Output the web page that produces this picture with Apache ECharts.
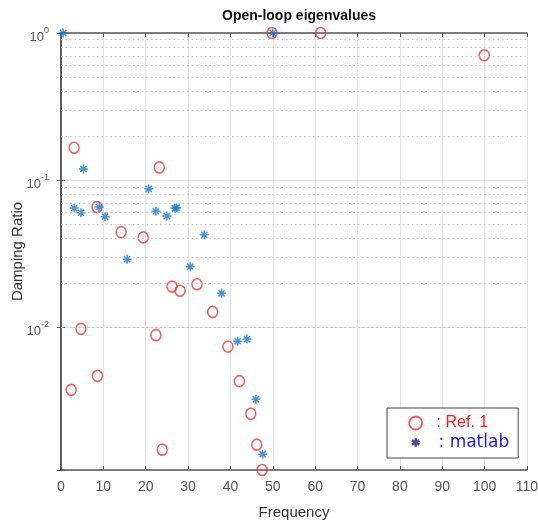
<!DOCTYPE html>
<html>
<head>
<meta charset="utf-8">
<script src="https://cdn.jsdelivr.net/npm/echarts@6/dist/echarts.min.js"></script>
<style>html,body{margin:0;padding:0;background:#fff}#c{width:538px;height:523px}</style>
</head>
<body>
<div id="c"></div>
<script>
// Data
const refFreq = [2.4, 3.1, 4.7, 8.5, 8.6, 14.2, 19.4, 22.4, 23.2, 23.9, 26.2, 28.1, 32.1, 35.8, 39.4, 42.1, 44.8, 46.2, 47.5, 49.8, 61.3, 99.9];
const refDamp = [0.00375, 0.166, 0.00975, 0.0656, 0.00467, 0.0443, 0.0408, 0.00883, 0.122, 0.00147, 0.0189, 0.0177, 0.0196, 0.0127, 0.00738, 0.0043, 0.00258, 0.00159, 0.00107, 1.0, 1.0, 0.706];
const matFreq = [0.5, 3.1, 4.7, 5.3, 9.0, 10.4, 15.6, 20.7, 22.4, 25.0, 26.9, 27.3, 30.5, 33.8, 37.9, 41.7, 43.9, 46.0, 47.6, 50.0];
const matDamp = [1.0, 0.0645, 0.060, 0.119, 0.0656, 0.0564, 0.029, 0.0873, 0.0613, 0.057, 0.0643, 0.065, 0.0258, 0.0425, 0.017, 0.00803, 0.0083, 0.00324, 0.00137, 1.0];
const xTicks = [0, 10, 20, 30, 40, 50, 60, 70, 80, 90, 100, 110];
const yMin = 0.00107, yMax = 1;
const seriesNames = ['Ref. 1', 'matlab'];

const FONT = 'Liberation Sans, Arial, sans-serif';
const axisCol = '#555';
const redC = '#f03a3a';
const blueC = '#1a78c8';
const starPath = 'path://M5,0L5,10M0,5L10,5M1.6,1.6L8.4,8.4M1.6,8.4L8.4,1.6';
const legStar = 'path://M-7,-7M7,7M0,-4.5L0,4.5M-4,-2.3L4,2.3M-4,2.3L4,-2.3';

// minor (dotted) log grid positions
const minorLines = [];
for (let e = -3; e < 0; e++) {
  for (let m = 2; m <= 9; m++) {
    const v = m * Math.pow(10, e);
    if (v > yMin && v < yMax) minorLines.push({ yAxis: v });
  }
}

const chart = echarts.init(document.getElementById('c'), null, { renderer: 'canvas' });
const ylab = function (v) {
  const l = Math.log10(v);
  if (Math.abs(l - Math.round(l)) > 1e-6) return '';
  return '{h| }{b|10}{s|' + Math.round(l) + '}';
};
chart.setOption({
  animation: false,
  backgroundColor: '#fff',
  title: {
    text: 'Open-loop eigenvalues',
    left: 294, top: 4, textAlign: 'center',
    textStyle: { fontFamily: FONT, fontSize: 14, fontWeight: 'bold', color: '#111' }
  },
  grid: { left: 61, right: 11, top: 33, bottom: 53, containLabel: false, outerBoundsMode: 'none' },
  legend: {
    orient: 'vertical',
    left: 387, top: 408,
    padding: [7, 9, 7, 21],
    itemGap: 3,
    itemWidth: 14, itemHeight: 13,
    borderColor: '#444', borderWidth: 1, backgroundColor: '#fff',
    formatter: n => '  : ' + n,
    textStyle: { fontFamily: FONT, fontSize: 16 },
    data: [
      { name: seriesNames[0], icon: 'circle', itemStyle: { color: 'rgba(0,0,0,0)', borderColor: '#ff3030', borderWidth: 1.8 }, textStyle: { color: '#ff1a1a', fontFamily: FONT, fontSize: 16 } },
      { name: seriesNames[1], icon: legStar, itemStyle: { color: 'rgba(0,0,0,0)', borderColor: '#1a2090', borderWidth: 2.4 }, textStyle: { color: '#1a1aff', fontFamily: 'DejaVu Sans, Verdana, sans-serif', fontSize: 17 } }
    ]
  },
  xAxis: [{
    type: 'value', min: 0, max: 110, interval: 10,
    name: 'Frequency', nameLocation: 'middle', nameGap: 35,
    nameTextStyle: { fontFamily: FONT, fontSize: 15, color: '#333' },
    axisLine: { show: true, lineStyle: { color: axisCol, width: 1.5 } },
    axisTick: { show: true, inside: true, length: 4, lineStyle: { color: axisCol } },
    axisLabel: { fontFamily: FONT, fontSize: 14, color: '#555', margin: 10 },
    splitLine: { show: true, lineStyle: { color: '#e2e2e2', width: 1 } }
  }, {
    type: 'value', min: 0, max: 110, interval: 10, position: 'top',
    axisLine: { show: true, lineStyle: { color: axisCol, width: 1.5 } },
    axisTick: { show: true, inside: true, length: 4, lineStyle: { color: axisCol } },
    axisLabel: { show: false }, splitLine: { show: false }
  }],
  yAxis: [{
    type: 'log', logBase: 10, min: yMin, max: yMax,
    name: 'Damping Ratio', nameLocation: 'middle', nameGap: 36, nameRotate: 90,
    nameMoveOverlap: false,
    nameTextStyle: { fontFamily: FONT, fontSize: 15, color: '#333' },
    axisLine: { show: true, lineStyle: { color: axisCol, width: 1.5 } },
    axisTick: { show: true, inside: true, length: 4, lineStyle: { color: axisCol } },
    axisLabel: {
      formatter: ylab, margin: 12, color: '#555',
      rich: {
        h: { fontFamily: FONT, fontSize: 9, lineHeight: 22, verticalAlign: 'middle' },
        b: { fontFamily: FONT, fontSize: 13, color: '#555', verticalAlign: 'bottom', lineHeight: 13 },
        s: { fontFamily: FONT, fontSize: 9, color: '#555', verticalAlign: 'top', lineHeight: 9, padding: [4, 0, 0, 0] }
      }
    },
    splitLine: { show: true, lineStyle: { color: '#e2e2e2', width: 1 } }
  }, {
    type: 'log', logBase: 10, min: yMin, max: yMax, position: 'right',
    axisLine: { show: true, lineStyle: { color: axisCol, width: 1.5 } },
    axisTick: { show: true, inside: true, length: 4, lineStyle: { color: axisCol } },
    axisLabel: { show: false }, splitLine: { show: false }
  }],
  series: [{
    type: 'scatter', name: 'grid', silent: true, data: [],
    markLine: {
      silent: true, symbol: 'none', animation: false,
      label: { show: false },
      lineStyle: { type: [1.5, 3], color: '#c4c4c4', width: 1 },
      data: minorLines
    }
  }, {
    type: 'scatter', name: seriesNames[0], clip: false,
    symbol: 'circle', symbolSize: [10, 11],
    itemStyle: { color: 'rgba(0,0,0,0)', borderColor: redC, borderWidth: 1.6 },
    data: refFreq.map((f, i) => [f, refDamp[i]]),
    z: 3
  }, {
    type: 'scatter', name: seriesNames[1], clip: false,
    symbol: starPath, symbolSize: 9,
    itemStyle: { color: 'rgba(0,0,0,0)', borderColor: blueC, borderWidth: 1.5 },
    data: matFreq.map((f, i) => [f, matDamp[i]]),
    z: 4
  }]
});
</script>
</body>
</html>
